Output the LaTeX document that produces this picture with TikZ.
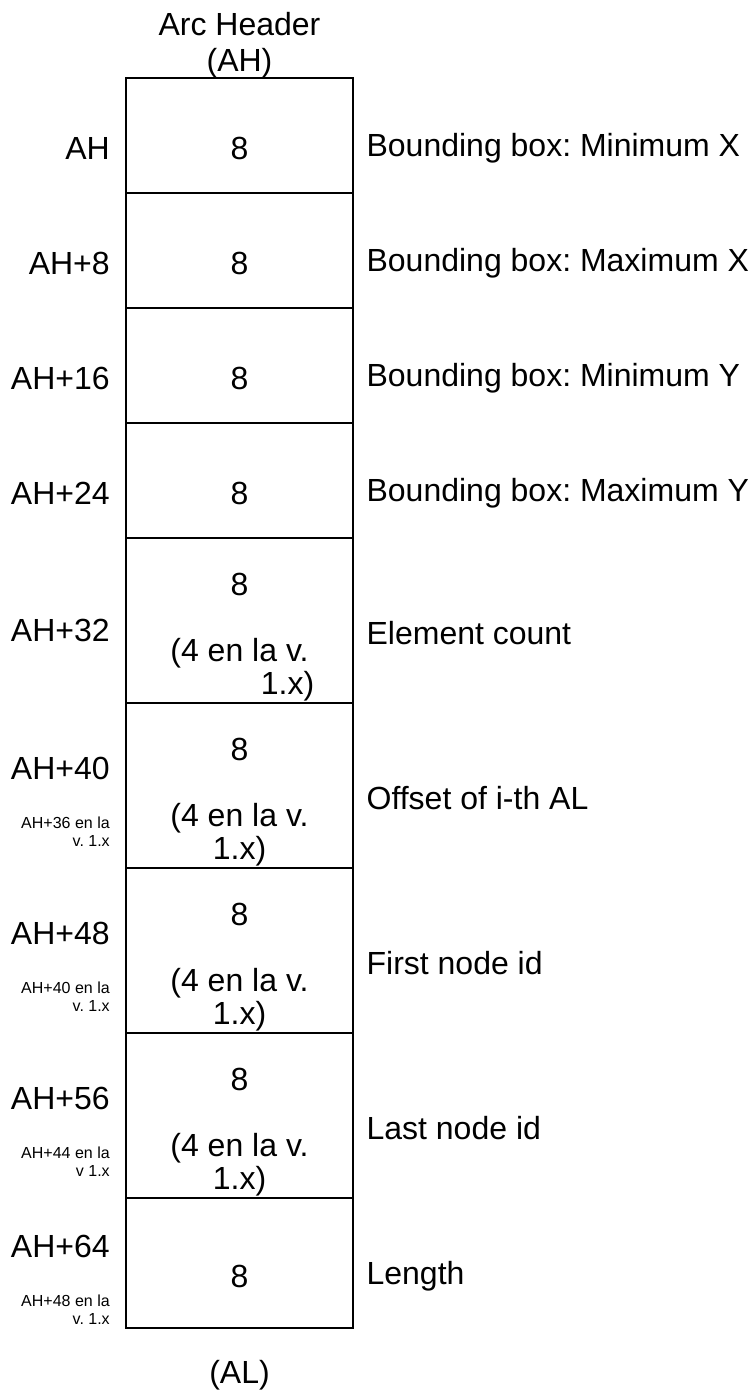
\documentclass[tikz,border=0pt]{standalone}
\usepackage{fontspec}
\setmainfont{Liberation Sans}
\usetikzlibrary{positioning}
\frenchspacing

\begin{document}
\begin{tikzpicture}[%
  x=0.75pt, y=-0.75pt,
  cell/.style={draw, line width=1.7pt, minimum width=170.25pt,
    inner sep=0pt, outer sep=0pt},
  rowshort/.style={cell, minimum height=86.25pt},
  rowtall/.style={cell, minimum height=123.75pt},
  rowlast/.style={cell, minimum height=97.5pt},
  big/.style={font=\fontsize{24}{24.75}\selectfont, inner sep=0pt, align=center},
  note/.style={font=\fontsize{12}{13.5}\selectfont, inner sep=0pt,
    align=right, anchor=east, xshift=-12pt},
  val/.style={big},
  field/.style={big, anchor=west, xshift=10pt},
  addr/.style={big, anchor=east, xshift=-12pt},
]

  \useasboundingbox (0,0) rectangle (755,1394);

  % the record, one cell per field
  \node[rowshort, anchor=north west] (ah0) at (126,78) {};
  \node[rowshort, below=0pt of ah0] (ah8) {};
  \node[rowshort, below=0pt of ah8] (ah16) {};
  \node[rowshort, below=0pt of ah16] (ah24) {};
  \node[rowtall, below=0pt of ah24] (ah32) {};
  \node[rowtall, below=0pt of ah32] (ah40) {};
  \node[rowtall, below=0pt of ah40] (ah48) {};
  \node[rowtall, below=0pt of ah48] (ah56) {};
  \node[rowlast, below=0pt of ah56] (ah64) {};

  \node[big, font=\fontsize{24}{27}\selectfont, above=0pt of ah0] (hdr) {Arc Header\\(AH)};
  \node[big, below=24pt of ah64] (al) {(AL)};

  % sizes
  \node[val] (v0) at ([yshift=-9.75pt]ah0.center) {8};
  \node[val] (v8) at ([yshift=-9.75pt]ah8.center) {8};
  \node[val] (v16) at ([yshift=-9.75pt]ah16.center) {8};
  \node[val] (v24) at ([yshift=-9.75pt]ah24.center) {8};
  \node[val] (v32) at ([yshift=-12.75pt]ah32.center) {8\\[24.75pt](4 en la v.\\\hspace*{72pt}1.x)};
  \node[val] (v40) at ([yshift=-12.75pt]ah40.center) {8\\[24.75pt](4 en la v.\\1.x)};
  \node[val] (v48) at ([yshift=-12.75pt]ah48.center) {8\\[24.75pt](4 en la v.\\1.x)};
  \node[val] (v56) at ([yshift=-12.75pt]ah56.center) {8\\[24.75pt](4 en la v.\\1.x)};
  \node[val] (v64) at ([yshift=-9.75pt]ah64.center) {8};

  % field names
  \node[field] (f0) at ([yshift=-9.75pt]ah0.east) {Bounding box: Minimum X};
  \node[field] (f8) at ([yshift=-9.75pt]ah8.east) {Bounding box: Maximum X};
  \node[field] (f16) at ([yshift=-9.75pt]ah16.east) {Bounding box: Minimum Y};
  \node[field] (f24) at ([yshift=-9.75pt]ah24.east) {Bounding box: Maximum Y};
  \node[field] (f32) at ([yshift=-9.75pt]ah32.east) {Element count};
  \node[field] (f40) at ([yshift=-9.75pt]ah40.east) {Offset of i-th AL};
  \node[field] (f48) at ([yshift=-9.75pt]ah48.east) {First node id};
  \node[field] (f56) at ([yshift=-9.75pt]ah56.east) {Last node id};
  \node[field] (f64) at ([yshift=-9.75pt]ah64.east) {Length};

  % offsets
  \node[addr] (a0) at ([yshift=-9.75pt]ah0.west) {AH};
  \node[addr] (a8) at ([yshift=-9.75pt]ah8.west) {AH+8};
  \node[addr] (a16) at ([yshift=-9.75pt]ah16.west) {AH+16};
  \node[addr] (a24) at ([yshift=-9.75pt]ah24.west) {AH+24};
  \node[addr] (a32) at ([yshift=-7.5pt]ah32.west) {AH+32};
  \node[addr] (a40) at ([yshift=12.75pt]ah40.west) {AH+40};
  \node[note] (n40) at ([yshift=-34.9pt]ah40.west) {AH+36 en la\\v. 1.x};
  \node[addr] (a48) at ([yshift=12.75pt]ah48.west) {AH+48};
  \node[note] (n48) at ([yshift=-34.9pt]ah48.west) {AH+40 en la\\v. 1.x};
  \node[addr] (a56) at ([yshift=12.75pt]ah56.west) {AH+56};
  \node[note] (n56) at ([yshift=-34.9pt]ah56.west) {AH+44 en la\\v 1.x};
  \node[addr] (a64) at ([yshift=12.75pt]ah64.west) {AH+64};
  \node[note] (n64) at ([yshift=-34.9pt]ah64.west) {AH+48 en la\\v. 1.x};

\end{tikzpicture}
\end{document}
